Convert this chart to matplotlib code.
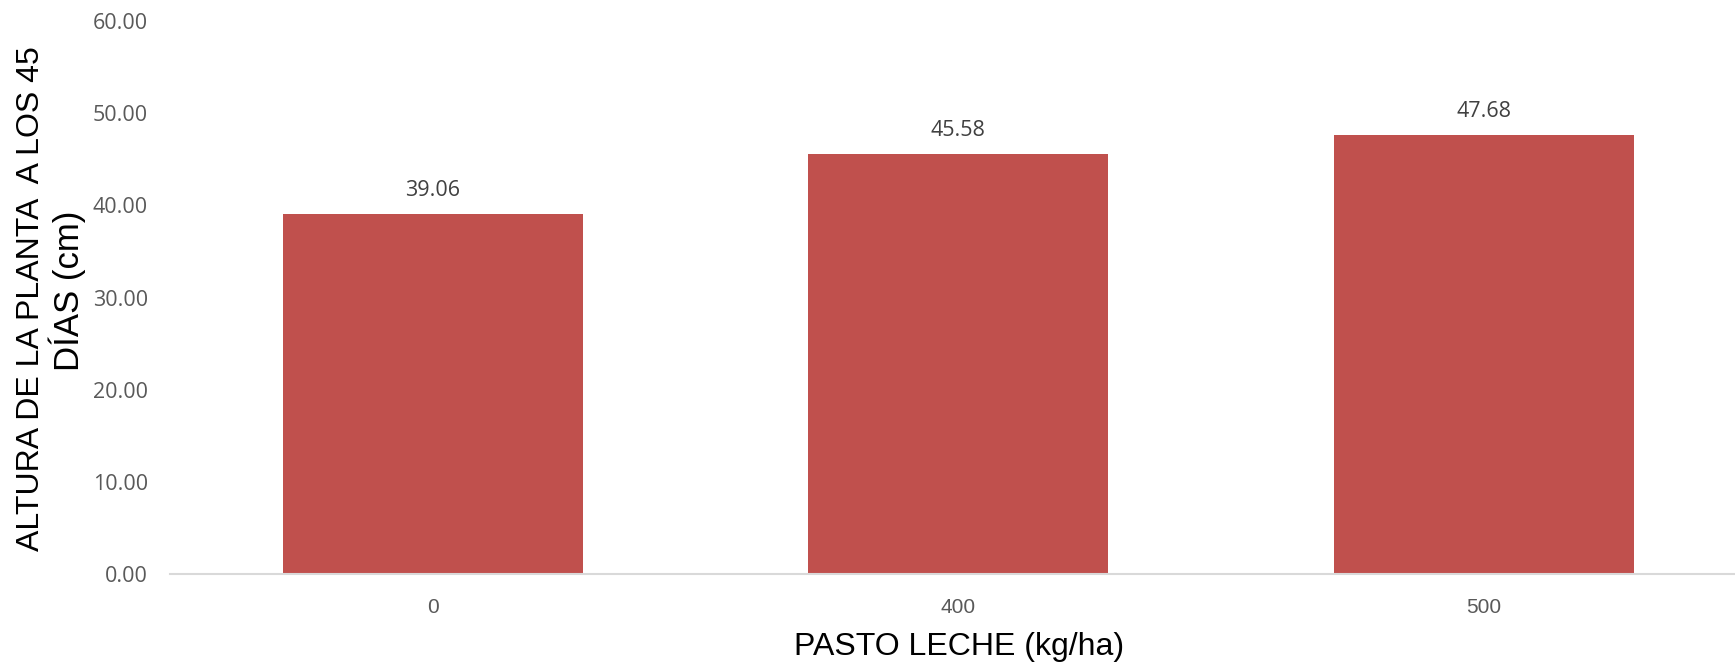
import matplotlib
matplotlib.use("Agg")
import matplotlib.pyplot as plt

categories = ["0", "400", "500"]
heights = [39.06, 45.58, 47.68]
y_ticks = [0, 10, 20, 30, 40, 50, 60]

bar_color = "#C0504D"
tick_color = "#595959"

fig = plt.figure(figsize=(17.35, 6.69), dpi=100)
ax = fig.add_axes([170 / 1735, 1 - 574 / 669, 1 - 170 / 1735, (574 - 21) / 669])

x = range(len(categories))
bars = ax.bar(x, heights, width=0.571, color=bar_color, zorder=2)

ax.set_xlim(-0.5, 2.478)
ax.set_ylim(0, 60)
ax.set_yticks(y_ticks)
ax.set_yticklabels([f"{v:.2f}" for v in y_ticks], fontfamily="Open Sans",
                   fontsize=15.5, color=tick_color)
ax.set_xticks(list(x))
ax.set_xticklabels(categories, fontfamily="Liberation Sans", fontsize=15,
                   color=tick_color)
ax.tick_params(axis="both", length=0)
ax.tick_params(axis="y", pad=16)
ax.tick_params(axis="x", pad=17)

for side in ("top", "right", "left"):
    ax.spines[side].set_visible(False)
ax.spines["bottom"].set_color("#D9D9D9")
ax.spines["bottom"].set_linewidth(1.5)

for xi, h in zip(x, heights):
    ax.annotate(f"{h:.2f}", (xi, h), xytext=(0, 12.5), textcoords="offset pixels",
                ha="center", va="bottom", fontfamily="Open Sans", fontsize=15.5,
                color="#404040")

fig.text(959 / 1735, 1 - 647 / 669, "PASTO LECHE (kg/ha)", ha="center",
         va="center", fontfamily="Liberation Sans", fontsize=23, color="black")
fig.text(31 / 1735, 1 - 299 / 669, "ALTURA DE LA PLANTA  A LOS 45", rotation=90,
         ha="center", va="center", fontfamily="Liberation Sans", fontsize=23,
         color="black")
fig.text(67 / 1735, 1 - 291 / 669, "DÍAS (cm)", rotation=90,
         ha="center", va="center", fontfamily="Liberation Sans", fontsize=25,
         color="black")

fig.savefig("out.png", dpi=100, facecolor="white")
